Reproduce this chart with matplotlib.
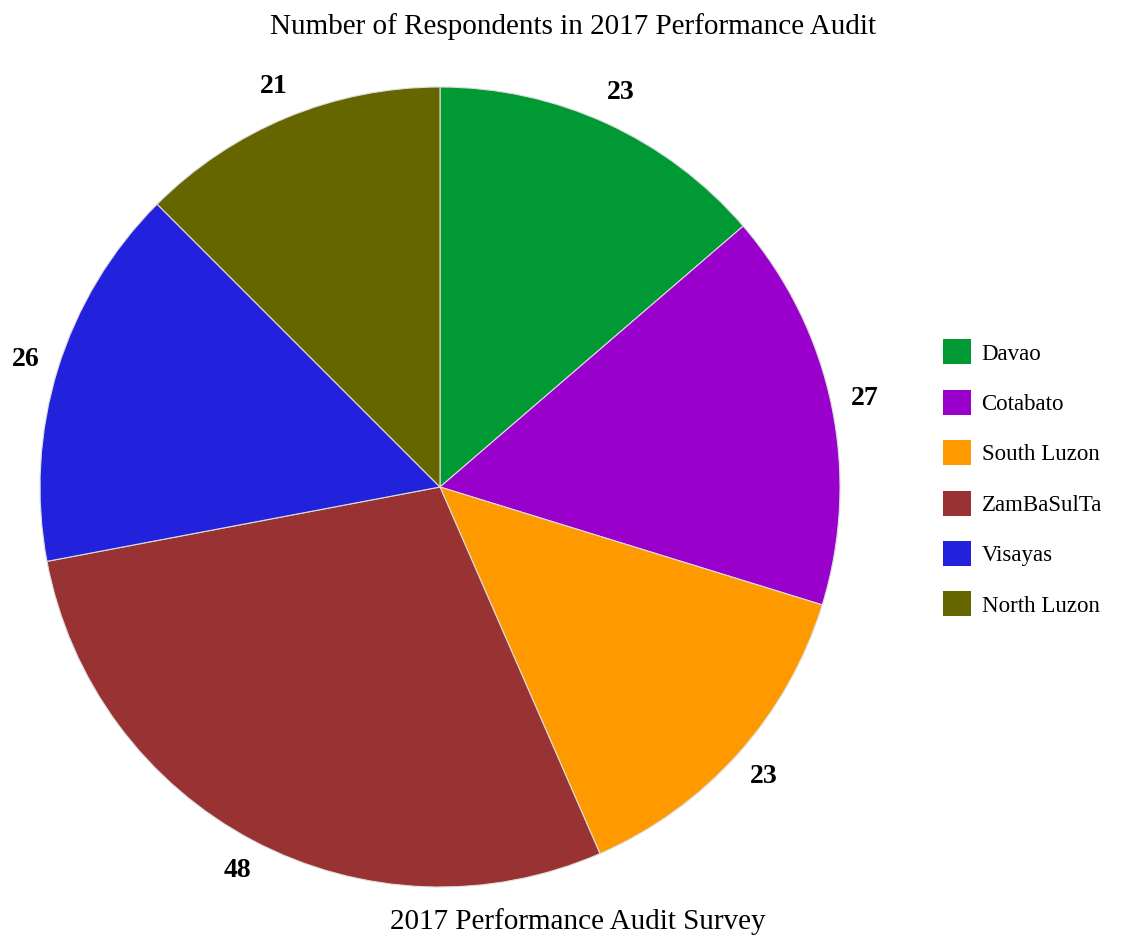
import matplotlib.pyplot as plt
from matplotlib.patches import Patch

regions = ['Davao', 'Cotabato', 'South Luzon', 'ZamBaSulTa', 'Visayas', 'North Luzon']
respondents = [23, 27, 23, 48, 26, 21]
colors = ['#009933', '#9900cc', '#ff9900', '#993333', '#2222dd', '#666600']

plt.rcParams['font.family'] = ['Liberation Serif', 'DejaVu Serif']

fig = plt.figure(figsize=(11.45, 9.38), dpi=100)
ax = fig.add_axes([40 / 1145, 51 / 938, 800 / 1145, 800 / 938])

wedges, texts = ax.pie(respondents, colors=colors, startangle=90, counterclock=False,
                       labels=[str(v) for v in respondents], labeldistance=1.085,
                       wedgeprops=dict(edgecolor='#dddddd', linewidth=0.8),
                       textprops=dict(fontsize=20, fontweight='bold'))
for t in texts:
    t.set_horizontalalignment('center')
    t.set_verticalalignment('center')
ax.set_xlim(-1, 1)
ax.set_ylim(-1, 1)
ax.set_aspect('equal')

fig.text(0.5, 1 - 27 / 938, 'Number of Respondents in 2017 Performance Audit',
         ha='center', va='center', fontsize=21)
fig.text(0.505, 1 - 922 / 938, '2017 Performance Audit Survey',
         ha='center', va='center', fontsize=21)

handles = [Patch(facecolor=c, edgecolor='none') for c in colors]
fig.legend(handles, regions, loc='center left', bbox_to_anchor=(922 / 1145, 1 - 478 / 938),
           frameon=False, fontsize=16.5, handlelength=1.25, handleheight=1.3,
           labelspacing=1.1, handletextpad=0.45)

fig.savefig('out.png', dpi=100)
